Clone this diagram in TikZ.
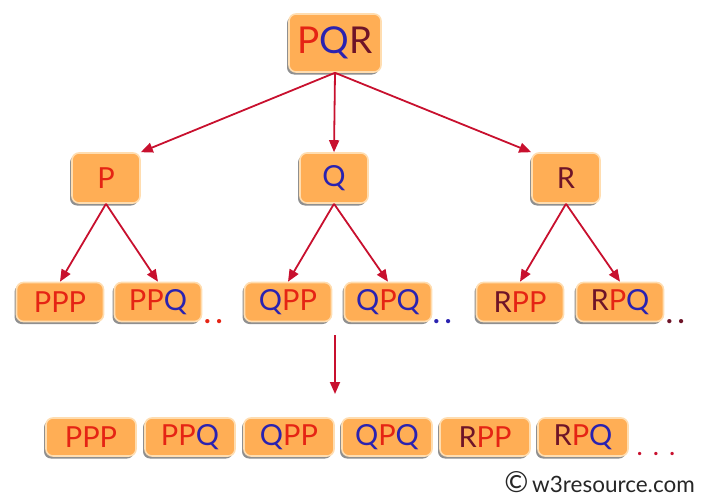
\documentclass[tikz,border=0pt]{standalone}
\usepackage{fontspec}
\setmainfont{Lato}
\usetikzlibrary{shadows,arrows.meta}
\definecolor{boxfill}{HTML}{FFAE55}
\definecolor{boxline}{HTML}{FFDDB0}
\definecolor{arr}{HTML}{C8102E}
\definecolor{cP}{HTML}{E52414}
\definecolor{cQ}{HTML}{2A22B0}
\definecolor{cR}{HTML}{6E1428}
\newcommand{\lP}{\textcolor{cP}{P}}
\newcommand{\lQ}{\textcolor{cQ}{Q}}
\newcommand{\lR}{\textcolor{cR}{R}}
\tikzset{
  bx/.style={fill=boxfill, draw=boxline, line width=1.6pt, rounded corners=7pt,
    drop shadow={shadow xshift=-2pt, shadow yshift=-2.5pt, fill=black!55, opacity=0.8},
    inner sep=0pt, align=center},
  big/.style={bx, minimum width=92pt, minimum height=58pt, font=\fontsize{37}{40}\selectfont},
  mid/.style={bx, minimum width=68pt, minimum height=50pt, font=\fontsize{29}{30}\selectfont},
  sm/.style={bx, minimum width=87pt, minimum height=39pt, font=\fontsize{29}{30}\selectfont},
  bt/.style={bx, minimum width=90pt, minimum height=38pt, font=\fontsize{29}{30}\selectfont},
  ar/.style={draw=arr, line width=1.8pt, -{Triangle[length=12pt,width=10pt]}},
  dots/.style={font=\fontsize{28}{30}\selectfont\bfseries, inner sep=0pt}
}
\begin{document}
\begin{tikzpicture}[x=1pt,y=-1pt]
\useasboundingbox (0,0) rectangle (703,503);
\node[big] (pqr) at (335,43) {\lP\lQ\lR};
\node[mid] (p) at (106,178) {\lP};
\node[mid] (q) at (334,178) {\lQ};
\node[mid] (r) at (566,178) {\lR};
\node[sm] (ppp) at (60,302) {\lP\lP\lP};
\node[sm] (ppq) at (158,302) {\lP\lP\lQ};
\node[sm] (qpp) at (288,302) {\lQ\lP\lP};
\node[sm] (qpq) at (388,302) {\lQ\lP\lQ};
\node[sm] (rpp) at (520,302) {\lR\lP\lP};
\node[sm] (rpq) at (620,302) {\lR\lP\lQ};
\node[dots, text=cP, anchor=base west] (d1) at (204,323) {.\hspace{5pt}.};
\node[dots, text=cQ, anchor=base west] (d2) at (433,323) {.\hspace{5pt}.};
\node[dots, text=cR, anchor=base west] (d3) at (666,323) {.\hspace{5pt}.};
\coordinate (a1) at (335,335);
\coordinate (a2) at (335,394);
\node[bt] (b1) at (91,437) {\lP\lP\lP};
\node[bt] (b2) at (190,437) {\lP\lP\lQ};
\node[bt] (b3) at (289,437) {\lQ\lP\lP};
\node[bt] (b4) at (387,437) {\lQ\lP\lQ};
\node[bt] (b5) at (485,437) {\lR\lP\lP};
\node[bt] (b6) at (583,437) {\lR\lP\lQ};
\node[dots, text=arr, anchor=base west, font=\fontsize{22}{24}\selectfont\bfseries] (d4) at (637,455) {.\hspace{11pt}.\hspace{11pt}.};
\node[anchor=base east, font=\fontsize{22.5}{24}\selectfont, text=black!85, inner sep=0pt] (cp) at (695,492) {{\fontsize{29}{30}\selectfont ©}\,w3resource.com};
\draw[ar] (pqr.south) -- (p.north east);
\draw[ar] (pqr.south) -- (q.north);
\draw[ar] (pqr.south) -- (r.north west);
\draw[ar] (p.south) -- (ppp.north);
\draw[ar] (p.south) -- (ppq.north);
\draw[ar] (q.south) -- (qpp.north);
\draw[ar] (q.south) -- (qpq.north);
\draw[ar] (r.south) -- (rpp.north);
\draw[ar] (r.south) -- (rpq.north);
\draw[ar] (a1) -- (a2);
\end{tikzpicture}
\end{document}
